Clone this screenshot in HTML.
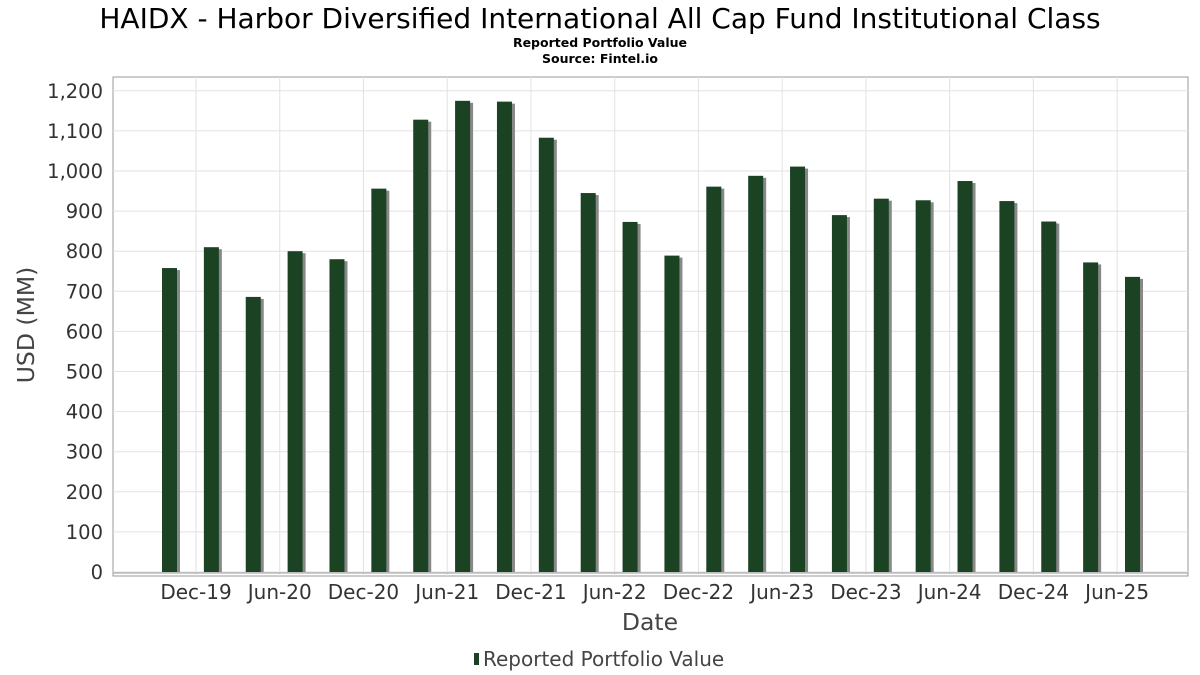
<!DOCTYPE html>
<html><head><meta charset="utf-8"><style>
body{margin:0;background:#fff;}
svg{display:block;font-family:"DejaVu Sans","Liberation Sans",sans-serif;}
</style></head><body>
<svg id="chart" width="1200" height="675">
<text x="600" y="28" text-anchor="middle" font-size="28" fill="#000">HAIDX - Harbor Diversified International All Cap Fund Institutional Class</text>
<text x="600" y="47" text-anchor="middle" font-size="12.5" font-weight="bold">Reported Portfolio Value</text>
<text x="600" y="63" text-anchor="middle" font-size="12.5" font-weight="bold">Source: Fintel.io</text>
<g id="grid"></g>
<g id="bars"></g>
<g id="axes"></g>
<text transform="translate(34,325) rotate(-90)" text-anchor="middle" font-size="23.5" fill="#444">USD (MM)</text>
<text x="650" y="630" text-anchor="middle" font-size="23.5" fill="#444">Date</text>
<g>
<rect x="474" y="653" width="5" height="12" fill="#1a4223"></rect>
<text x="483" y="666" font-size="20" fill="#444">Reported Portfolio Value</text>
</g>
</svg>
<script>
const values=[758,810,686,800,780,956,1128,1175,1173,1083,945,873,789,961,988,1011,890,931,927,975,925,874,772,736];
const xLabels=["Dec-19","Jun-20","Dec-20","Jun-21","Dec-21","Jun-22","Dec-22","Jun-23","Dec-23","Jun-24","Dec-24","Jun-25"];
const yTicks=[0,100,200,300,400,500,600,700,800,900,1000,1100,1200];
const NS="http://www.w3.org/2000/svg";
const L=113,R=1188,T=77,B=576,Y0=572,SC=0.401;
const y=v=>Y0-v*SC;
const xb=i=>170+i*41.87;
const xl=i=>196+i*83.74;
function mk(t,a,p){const e=document.createElementNS(NS,t);for(const k in a)e.setAttribute(k,a[k]);p.appendChild(e);return e;}
const g=document.getElementById('grid'),b=document.getElementById('bars'),ax=document.getElementById('axes');
mk('rect',{x:L,y:T,width:R-L,height:B-T,fill:'#fff',stroke:'#999'},g);
yTicks.forEach(v=>{
 const l=mk('line',{x1:L,x2:R,y1:y(v),y2:y(v),stroke:'#e2e2e2'},g);
 
 
 const t=mk('text',{x:103,y:y(v)+7,'text-anchor':'end','font-size':19.5,fill:'#333'},ax);
 t.textContent=v.toLocaleString('en-US');
 
 
});
xLabels.forEach((s,i)=>{
 const l=mk('line',{x1:xl(i),x2:xl(i),y1:T,y2:Y0+4,stroke:'#e2e2e2'},g);
 
 
 const t=mk('text',{x:xl(i),y:599,'text-anchor':'middle','font-size':20,fill:'#333'},ax);
 t.textContent=s;
 
 
});
mk('line',{x1:L,x2:R,y1:Y0+1,y2:Y0+1,stroke:'#999'},ax);
values.forEach((v,i)=>{
 const s=mk('rect',{x:xb(i)-5,y:y(v)+2,width:15,height:Y0-y(v)-2,fill:'#888'},b);
 
 
 const r=mk('rect',{x:xb(i)-8,y:y(v),width:15,height:Y0-y(v),fill:'#1a4223'},b);
 
 
});
</script>
</body></html>
